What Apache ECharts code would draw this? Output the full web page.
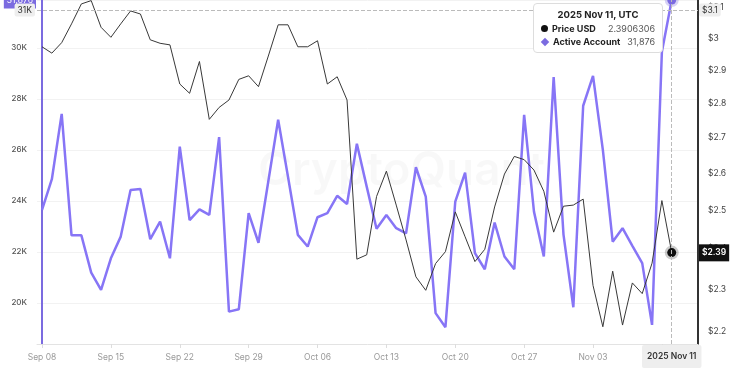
<!DOCTYPE html>
<html><head><meta charset="utf-8">
<script src="https://cdn.jsdelivr.net/npm/echarts@6/dist/echarts.min.js"></script>
<style>html,body{margin:0;padding:0;background:#fff;}#c{width:750px;height:375px;}</style>
</head><body><div id="c"></div>
<script>
const dates = [
'2025-09-08','2025-09-09','2025-09-10','2025-09-11','2025-09-12','2025-09-13','2025-09-14','2025-09-15','2025-09-16','2025-09-17',
'2025-09-18','2025-09-19','2025-09-20','2025-09-21','2025-09-22','2025-09-23','2025-09-24','2025-09-25','2025-09-26','2025-09-27',
'2025-09-28','2025-09-29','2025-09-30','2025-10-01','2025-10-02','2025-10-03','2025-10-04','2025-10-05','2025-10-06','2025-10-07',
'2025-10-08','2025-10-09','2025-10-10','2025-10-11','2025-10-12','2025-10-13','2025-10-14','2025-10-15','2025-10-16','2025-10-17',
'2025-10-18','2025-10-19','2025-10-20','2025-10-21','2025-10-22','2025-10-23','2025-10-24','2025-10-25','2025-10-26','2025-10-27',
'2025-10-28','2025-10-29','2025-10-30','2025-10-31','2025-11-01','2025-11-02','2025-11-03','2025-11-04','2025-11-05','2025-11-06',
'2025-11-07','2025-11-08','2025-11-09','2025-11-10','2025-11-11'];
const priceUSD = [
2.973,2.953,2.986,3.046,3.111,3.122,3.035,3.003,3.046,3.088,
3.078,2.995,2.984,2.979,2.858,2.830,2.927,2.753,2.788,2.810,
2.872,2.883,2.850,2.944,3.043,3.043,2.973,2.973,2.992,2.858,
2.880,2.810,2.374,2.385,2.537,2.606,2.514,2.423,2.330,2.297,
2.363,2.393,2.496,2.431,2.368,2.399,2.509,2.598,2.647,2.638,
2.609,2.551,2.443,2.511,2.514,2.530,2.309,2.210,2.344,2.214,
2.315,2.289,2.364,2.526,2.3906306];
const activeAccounts = [
23650,24850,27410,22650,22650,21190,20510,21750,22600,24430,
24470,22500,23190,21750,26130,23250,23670,23450,26500,19660,
19750,23520,22360,24770,27180,24950,22670,22210,23360,23520,
24200,23880,26240,24560,22910,23450,22930,22730,25320,24170,
19600,19050,23970,25110,21950,21320,23150,21820,21320,27370,
23580,21820,28850,22680,19830,27730,28900,26000,22400,22930,
22240,21560,19140,29850,31876];
const xTickDates = ['2025-09-08','2025-09-15','2025-09-22','2025-09-29','2025-10-06','2025-10-13','2025-10-20','2025-10-27','2025-11-03','2025-11-10'];
const leftTicks = [20000,22000,24000,26000,28000,30000];
const rightTicks = [2.2,2.3,2.4,2.5,2.6,2.7,2.8,2.9,3.0,3.1];

const MONTHS = ['Jan','Feb','Mar','Apr','May','Jun','Jul','Aug','Sep','Oct','Nov','Dec'];
const PURPLE = '#7b6be0';
const FONT = 'Inter, "Liberation Sans", Arial, sans-serif';
function parts(s){ const a = s.split('-'); return {y:a[0], m:MONTHS[+a[1]-1], d:a[2]}; }
function fmtShort(s){ const p = parts(s); return p.m + ' ' + p.d; }
function fmtLong(s){ const p = parts(s); return p.y + ' ' + p.m + ' ' + (+p.d); }
const tickIdx = xTickDates.map(function(d){ return dates.indexOf(d); });

const chart = echarts.init(document.getElementById('c'));
const pointerLabel = {show:true, backgroundColor:'#eeeeee', color:'#333', fontSize:8.5, fontFamily:FONT, padding:[2,3], borderRadius:2, shadowBlur:0};

chart.setOption({
  animation:false,
  textStyle:{fontFamily:FONT},
  grid:{left:37, right:52, top:0, bottom:31},
  graphic:[{type:'text', left:258, top:148, silent:true, z:-10,
    style:{text:'CryptoQuant', fontSize:46, fontWeight:600, fontFamily:FONT, fill:'rgba(0,0,0,0.028)'}}],
  tooltip:{
    trigger:'axis', alwaysShowContent:true, transitionDuration:0,
    position:[533,3],
    backgroundColor:'#fff', borderColor:'#dddddd', borderWidth:1, padding:[4,7],
    extraCssText:'box-shadow:none;border-radius:4px;',
    axisPointer:{type:'cross', crossStyle:{color:'#bbbbbb', type:'dashed', width:1}, lineStyle:{color:'#bbbbbb', type:'dashed', width:1}},
    formatter:function(params){
      const idx = params[0].dataIndex;
      const title = fmtLong(dates[idx]) + ', UTC';
      const p = params.find(function(x){return x.seriesName==='Price USD';});
      const a = params.find(function(x){return x.seriesName==='Active Account';});
      const row = function(marker, name, val){ return '<div style="display:flex;align-items:center;line-height:13px;">' + marker +
        '<span style="font-weight:700;color:#222;">' + name + '</span><span style="margin-left:auto;padding-left:6px;color:#555;">' + val + '</span></div>'; };
      const dot = '<span style="display:inline-block;width:7px;height:7px;border-radius:50%;background:#111;margin-right:4px;"></span>';
      const dia = '<span style="display:inline-block;width:6px;height:6px;background:' + PURPLE + ';transform:rotate(45deg);margin:0 5px 0 1px;"></span>';
      return '<div style="font-family:' + FONT.replace(/"/g,"'") + ';font-size:9px;color:#222;min-width:114px;">' +
        '<div style="text-align:center;font-weight:700;font-size:9.5px;line-height:14px;">' + title + '</div>' +
        row(dot, 'Price USD', String(p.value[1])) +
        row(dia, 'Active Account', a.value[1].toLocaleString('en-US')) + '</div>';
    }
  },
  xAxis:{
    type:'value',
    min:-0.51, max:66.67,
    axisLine:{show:true, lineStyle:{color:'#e3e3e3', width:1}},
    axisTick:{show:true, customValues: tickIdx, length:4, lineStyle:{color:'#dddddd'}},
    axisLabel:{customValues: tickIdx, formatter:function(v){return fmtShort(dates[Math.round(v)]);}, color:'#9a9a9a', fontSize:8.5, margin:9},
    splitLine:{show:false},
    axisPointer:{snap:true, label:Object.assign({}, pointerLabel, {fontWeight:600, padding:[7,5], margin:1, formatter:function(p){return fmtLong(dates[Math.round(p.value)]);}})}
  },
  yAxis:[
    {type:'value', position:'left', min:18390, max:31876, splitNumber:7,
      axisLine:{show:true, lineStyle:{color:PURPLE, width:2}},
      axisTick:{show:false},
      axisLabel:{customValues:leftTicks, formatter:function(v){return (v/1000)+'K';}, color:'#555', fontSize:8, fontWeight:500, margin:10},
      splitLine:{show:true, lineStyle:{color:'#f2f2f2', width:1}},
      axisPointer:{label:Object.assign({}, pointerLabel, {margin:2, formatter:function(p){return Math.round(p.value/1000)+'K';}})}
    },
    {type:'log', position:'right', min:2.170, max:3.124,
      axisLine:{show:true, lineStyle:{color:'#333', width:2}},
      axisTick:{show:false},
      axisLabel:{customValues:rightTicks, formatter:function(v){return '$' + (+(+v).toFixed(2));}, color:'#444', fontSize:8.5, margin:10},
      splitLine:{show:false},
      axisPointer:{label:Object.assign({}, pointerLabel, {margin:1, formatter:function(p){return '$' + (+p.value).toFixed(1);}})}
    }
  ],
  series:[
    {name:'Active Account', type:'line', yAxisIndex:0,
      data: dates.map(function(d,i){return [i, activeAccounts[i]];}),
      showSymbol:false, symbol:'circle', symbolSize:9,
      lineStyle:{color:PURPLE, width:2.5}, itemStyle:{color:PURPLE, borderColor:'rgba(123,107,224,0.3)', borderWidth:5},
      emphasis:{scale:false, lineStyle:{width:2.5}},
      markLine:{silent:true, symbol:'none', animation:false,
        lineStyle:{color:'rgba(0,0,0,0)', width:1, type:'solid'},
        label:{show:true, position:'start', distance:1, formatter:function(){return activeAccounts[activeAccounts.length-1].toLocaleString('en-US');}, backgroundColor:PURPLE, color:'#fff', fontSize:8.5, padding:[4,3]},
        emphasis:{disabled:true},
        data:[{yAxis: activeAccounts[activeAccounts.length-1]}]},
      z:2},
    {name:'Price USD', type:'line', yAxisIndex:1,
      data: dates.map(function(d,i){return [i, priceUSD[i]];}),
      showSymbol:false, symbol:'circle', symbolSize:9,
      lineStyle:{color:'#333', width:1}, itemStyle:{color:'#111', borderColor:'rgba(0,0,0,0.2)', borderWidth:5},
      emphasis:{scale:false, lineStyle:{width:1}},
      markLine:{silent:true, symbol:'none', animation:false,
        lineStyle:{color:'rgba(0,0,0,0)', width:1, type:'solid'},
        label:{show:true, position:'end', distance:1, formatter:function(){return '$' + priceUSD[priceUSD.length-1].toFixed(2);}, backgroundColor:'#111', color:'#fff', fontSize:8.5, fontWeight:600, padding:[4,3]},
        emphasis:{disabled:true},
        data:[{yAxis: priceUSD[priceUSD.length-1]}]},
      z:3}
  ]
});

const px = chart.convertToPixel({xAxisIndex:0}, dates.length-1);
chart.dispatchAction({type:'showTip', x: px, y: 10});
</script>
</body></html>
